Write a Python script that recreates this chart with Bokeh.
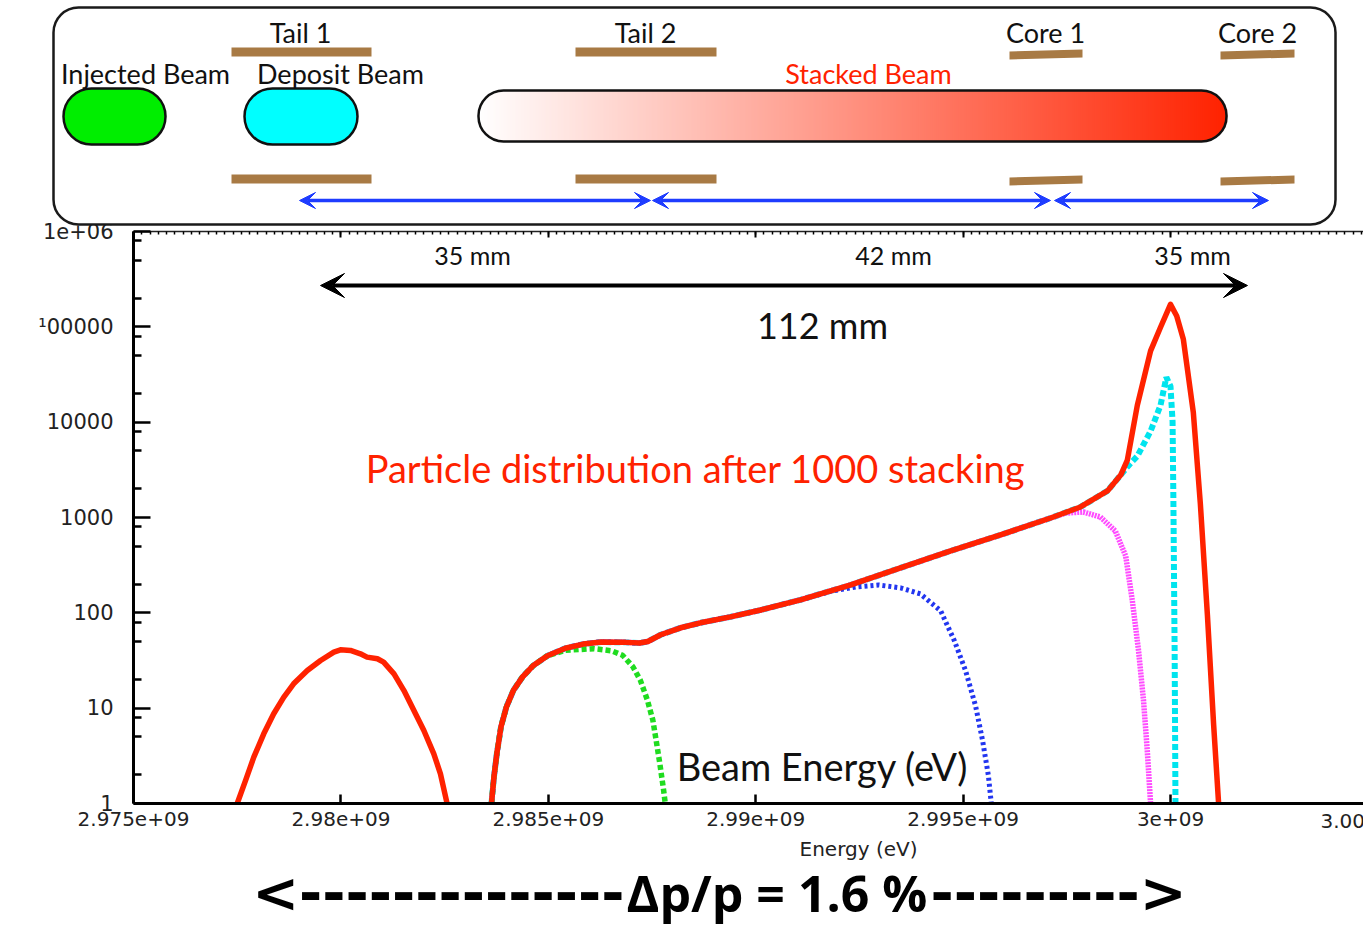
import math
from bokeh.plotting import figure
from bokeh.models import (Range1d, FixedTicker, LinearAxis, Arrow, VeeHead, LinearScale,
                          CustomJSTickFormatter)
from bokeh.embed import file_html
from bokeh.resources import INLINE
from bokeh.core.properties import value

# ---------------- data (energy in eV, particle counts) ----------------
# injected beam (left peak)
inj_E = [2977.50e6, 2977.70e6, 2977.90e6, 2978.14e6, 2978.38e6, 2978.62e6, 2978.86e6,
         2979.19e6, 2979.51e6, 2979.83e6, 2979.99e6, 2980.23e6, 2980.47e6, 2980.63e6,
         2980.88e6, 2981.03e6, 2981.28e6, 2981.52e6, 2981.76e6, 2982.00e6, 2982.24e6,
         2982.40e6, 2982.56e6]
inj_N = [1.0, 1.74, 3.06, 5.38, 8.73, 13.0, 18.0, 24.8, 31.6, 38.7, 40.9, 40.3, 37.2, 34.3,
         33.0, 30.4, 22.9, 15.3, 9.46, 5.83, 3.32, 2.05, 1.0]

# total particle distribution after 1000 stackings
tot_E = [2983.63e6, 2983.69e6, 2983.76e6, 2983.86e6, 2983.99e6, 2984.16e6, 2984.38e6,
         2984.63e6, 2984.98e6, 2985.41e6, 2985.84e6, 2986.27e6, 2986.87e6, 2987.20e6,
         2987.40e6, 2987.71e6, 2988.19e6, 2988.67e6, 2989.39e6, 2990.12e6, 2991.08e6,
         2992.29e6, 2993.49e6, 2994.70e6, 2995.90e6, 2997.11e6, 2997.83e6, 2998.48e6,
         2998.80e6, 2998.96e6, 2999.20e6, 2999.52e6, 2999.76e6, 3000.00e6, 3000.15e6,
         3000.31e6, 3000.55e6, 3000.72e6, 3000.89e6, 3001.04e6, 3001.16e6]
tot_N = [1.0, 1.9, 3.35, 6.4, 10.3, 15.4, 21.3, 27.8, 35.5, 42.5, 47.0, 49.5, 49.0, 48.3,
         50.0, 58.9, 69.7, 78.6, 90.8, 107, 137, 196, 296, 446, 656, 988, 1290, 1900, 2790,
         4000, 15000, 56000, 99000, 172000, 130000, 74000, 12700, 1390, 95, 6.7, 1.0]

# partial distributions: shared rise (first points of tot) + own fall-off
green_split = 9
green_E = [2985.41e6, 2986.10e6, 2986.52e6, 2986.79e6, 2987.04e6, 2987.22e6, 2987.39e6,
           2987.52e6, 2987.60e6, 2987.69e6, 2987.78e6, 2987.82e6]
green_N = [40.4, 42.1, 40.0, 35.9, 27.2, 19.6, 12.1, 7.5, 4.6, 2.6, 1.38, 1.0]

blue_split = 21
blue_E = [2991.80e6, 2992.41e6, 2992.96e6, 2993.49e6, 2993.97e6, 2994.46e6, 2994.79e6,
          2995.06e6, 2995.30e6, 2995.47e6, 2995.61e6, 2995.68e6]
blue_N = [168, 187, 196, 183, 158, 105, 50.9, 24.7, 10.6, 4.57, 1.96, 1.0]

magenta_split = 26
magenta_E = [2997.47e6, 2997.90e6, 2998.31e6, 2998.67e6, 2998.92e6, 2999.08e6, 2999.23e6,
             2999.35e6, 2999.44e6, 2999.52e6]
magenta_N = [1114, 1142, 1012, 722, 395, 134, 40, 12.0, 3.59, 1.0]

cyan_split = 29
cyan_E = [2998.96e6, 2999.20e6, 2999.52e6, 2999.76e6, 2999.90e6, 3000.00e6, 3000.05e6,
          3000.07e6, 3000.10e6, 3000.12e6]
cyan_N = [3400, 4400, 8050, 15070, 29600, 23800, 10200, 1490, 40, 1.0]

x_ticks = [2975000000, 2980000000, 2985000000, 2990000000, 2995000000, 3000000000]
x_tick_labels = ["2.975e+09", "2.98e+09", "2.985e+09", "2.99e+09", "2.995e+09", "3e+09"]
y_ticks = [1, 10, 100, 1000, 10000, 100000, 1000000]
y_tick_labels = ["1", "10", "100", "1000", "10000", "\u00b900000", "1e+06"]

E_MIN, E_MAX = 2975e6, 3004.653e6
N_MIN, N_MAX = 1, 1e6

RED = "#ff2200"
GREEN = "#1fdc1f"
BLUE = "#2236f0"
MAGENTA = "#ff4cff"
CYAN = "#00e4ee"
BROWN = "#a87a44"
ARROW_BLUE = "#1e3cff"
GILL = value("Lato")
AXF = "DejaVu Sans"

W, H = 1363, 926

# one canvas; the chart frame maps E_MIN..E_MAX to page x 133..1363 and 1..1e6 to page y 803..231
p = figure(width=W, height=H, x_range=Range1d(2971.7936e6, E_MAX),
           y_range=Range1d(0.05127, 2.649e8), y_axis_type="log", output_backend="svg",
           toolbar_location=None, min_border=0)
p.extra_x_ranges = {"px": Range1d(0, W)}
p.extra_y_ranges = {"py": Range1d(H, 0)}
p.extra_x_scales = {"px": LinearScale()}
p.extra_y_scales = {"py": LinearScale()}
p.grid.visible = False
p.outline_line_color = None
PX = dict(x_range_name="px", y_range_name="py")

# ---------------- axes ----------------
xa = p.xaxis[0]
xa.fixed_location = N_MIN
xa.bounds = (E_MIN, E_MAX)
xa.ticker = FixedTicker(ticks=x_ticks, minor_ticks=[])
xa.major_label_overrides = dict(zip(x_ticks, x_tick_labels))
xa.axis_line_width = 3
xa.major_tick_in = 9
xa.major_tick_out = 0
xa.major_tick_line_width = 2.5
xa.major_label_standoff = 8
xa.major_label_text_font = AXF
xa.major_label_text_font_size = "20px"
xa.major_label_text_color = "#222222"

y_minor = [m * 10 ** k for k in range(6) for m in (2, 5, 8)]
ya = p.yaxis[0]
ya.fixed_location = E_MIN
ya.bounds = (N_MIN, N_MAX)
ya.ticker = FixedTicker(ticks=y_ticks, minor_ticks=y_minor)
ya.major_label_overrides = dict(zip(y_ticks, y_tick_labels))
ya.axis_line_width = 3
ya.major_tick_in = 17
ya.major_tick_out = 0
ya.minor_tick_in = 8
ya.minor_tick_out = 0
ya.major_tick_line_width = 2.5
ya.minor_tick_line_width = 2.5
ya.major_label_standoff = 20
ya.major_label_text_font = AXF
ya.major_label_text_font_size = "21px"
ya.major_label_text_color = "#222222"

top_minor = [E_MIN + i * 2e5 for i in range(149)]
tax = LinearAxis(fixed_location=N_MAX, bounds=(E_MIN, E_MAX),
                 ticker=FixedTicker(ticks=x_ticks, minor_ticks=top_minor),
                 formatter=CustomJSTickFormatter(code="return ''"),
                 axis_line_width=1.5, axis_line_color="#222222",
                 major_tick_in=6, major_tick_out=0, minor_tick_in=3, minor_tick_out=0,
                 major_tick_line_width=2, minor_tick_line_width=1.5)
p.add_layout(tax, "above")

# ---------------- curves ----------------
p.line(tot_E[:cyan_split] + cyan_E, tot_N[:cyan_split] + cyan_N, line_color=CYAN,
       line_width=6, line_dash="6 3")
p.line(tot_E[:magenta_split] + magenta_E, tot_N[:magenta_split] + magenta_N,
       line_color=MAGENTA, line_width=5.5, line_dash="2 1")
p.line(tot_E[:blue_split] + blue_E, tot_N[:blue_split] + blue_N, line_color=BLUE,
       line_width=5, line_dash="3 3")
p.line(tot_E[:green_split] + green_E, tot_N[:green_split] + green_N, line_color=GREEN,
       line_width=5.5, line_dash="5 3")
p.line(inj_E, inj_N, line_color=RED, line_width=5.5, line_join="round")
p.line(tot_E, tot_N, line_color=RED, line_width=5.5, line_join="round")

# ---------------- chart annotations (page pixels) ----------------
p.text(x=[472, 893, 1192], y=[254, 254, 254], text=["35 mm", "42 mm", "35 mm"],
       text_font=GILL, text_font_size="25px", text_color="#111111",
       text_align="center", text_baseline="middle", **PX)
p.add_layout(Arrow(x_start=320, y_start=285, x_end=1247, y_end=285,
                   start=VeeHead(size=24, fill_color="black", line_color="black"),
                   end=VeeHead(size=24, fill_color="black", line_color="black"),
                   line_color="black", line_width=4, **PX))
p.text(x=[822], y=[324], text=["112 mm"], text_font=GILL, text_font_size="36px",
       text_color="#111111", text_align="center", text_baseline="middle", **PX)
p.text(x=[695], y=[467], text=["Particle distribution after 1000 stacking"],
       text_font=GILL, text_font_size="38px", text_color=RED, text_align="center",
       text_baseline="middle", **PX)
p.text(x=[822], y=[765], text=["Beam Energy (eV)"], text_font=GILL,
       text_font_size="38px", text_color="#111111", text_align="center",
       text_baseline="middle", **PX)
p.text(x=[1320], y=[820], text=["3.005e+09"], text_font=value(AXF), text_font_size="20px",
       text_color="#222222", text_align="left", text_baseline="middle", **PX)
p.text(x=[858], y=[848], text=["Energy (eV)"], text_font=value(AXF), text_font_size="20px",
       text_color="#222222", text_align="center", text_baseline="middle", **PX)

# ---------------- top schematic (page pixels) ----------------
OV = dict(level="overlay", **PX)
p.quad(left=[53], right=[1335], top=[7], bottom=[224], border_radius=25,
       fill_color="white", line_color="#1a1a1a", line_width=2.5, **OV)

L0, R0, T0, B0 = 478, 1226, 90, 141
rr = (B0 - T0) / 2.0
cy = (T0 + B0) / 2.0
gl, gr, gt, gb, gc = [], [], [], [], []
step = 2
xx = L0
while xx < R0:
    xc = xx + step / 2.0
    if xc < L0 + rr:
        d = L0 + rr - xc
        half = math.sqrt(max(rr * rr - d * d, 0))
    elif xc > R0 - rr:
        d = xc - (R0 - rr)
        half = math.sqrt(max(rr * rr - d * d, 0))
    else:
        half = rr
    t = (xc - L0) / (R0 - L0)
    g = int(round(255 + t * (34 - 255)))
    b = int(round(255 + t * (0 - 255)))
    gl.append(xx); gr.append(xx + step + 0.6)
    gt.append(cy - half); gb.append(cy + half)
    gc.append("#%02x%02x%02x" % (255, g, b))
    xx += step
p.quad(left=gl, right=gr, top=gt, bottom=gb, fill_color=gc, line_color=None, **OV)
p.quad(left=[L0], right=[R0], top=[T0], bottom=[B0], border_radius=int(rr),
       fill_color=None, line_color="#111111", line_width=2.5, **OV)

p.quad(left=[63, 244], right=[165, 357], top=[88, 88], bottom=[144, 144],
       border_radius=28, fill_color=["#00ee00", "#00ffff"], line_color="#111111",
       line_width=2.5, **OV)

bars_x = [[231, 371, 371, 231], [231, 371, 371, 231], [575, 716, 716, 575], [575, 716, 716, 575],
          [1009, 1082, 1082, 1009], [1009, 1082, 1082, 1009], [1220, 1294, 1294, 1220],
          [1220, 1294, 1294, 1220]]
bars_y = [[47, 47, 56, 56], [174, 174, 183, 183], [47, 47, 56, 56], [174, 174, 183, 183],
          [51, 49, 57, 59], [177, 175, 183, 185], [51, 49, 57, 59], [177, 175, 183, 185]]
p.patches(xs=bars_x, ys=bars_y, fill_color=BROWN, line_color=None, **OV)

p.text(x=[145, 340, 300, 645, 1045, 1257], y=[73, 73, 32, 32, 32, 32],
       text=["Injected Beam", "Deposit Beam", "Tail 1", "Tail 2", "Core 1", "Core 2"],
       text_font=GILL, text_font_size="27px", text_color="#111111",
       text_align="center", text_baseline="middle", **OV)
p.text(x=[868], y=[73], text=["Stacked Beam"], text_font=GILL, text_font_size="27px",
       text_color=RED, text_align="center", text_baseline="middle", **OV)

for xs, xe in [(299, 650), (652, 1050), (1054, 1268)]:
    p.add_layout(Arrow(x_start=xs, y_start=200, x_end=xe, y_end=200,
                       start=VeeHead(size=16, fill_color=ARROW_BLUE, line_color=ARROW_BLUE),
                       end=VeeHead(size=16, fill_color=ARROW_BLUE, line_color=ARROW_BLUE),
                       line_color=ARROW_BLUE, line_width=3.5, **OV))

# ---------------- bottom caption ----------------
p.text(x=[624], y=[892], text=["<--------------"], text_font=value("DejaVu Sans"),
       text_font_style="bold", text_font_size="56px", text_color="black",
       text_align="right", text_baseline="middle", **PX)
p.text(x=[626], y=[892], text=["\u0394p/p = 1.6 %"], text_font=value("Open Sans"),
       text_font_style="bold", text_font_size="50px", text_color="black",
       text_align="left", text_baseline="middle", **PX)
p.text(x=[930], y=[892], text=["--------->"], text_font=value("DejaVu Sans"),
       text_font_style="bold", text_font_size="56px", text_color="black",
       text_align="left", text_baseline="middle", **PX)

open("out.html", "w").write(file_html(p, INLINE))
